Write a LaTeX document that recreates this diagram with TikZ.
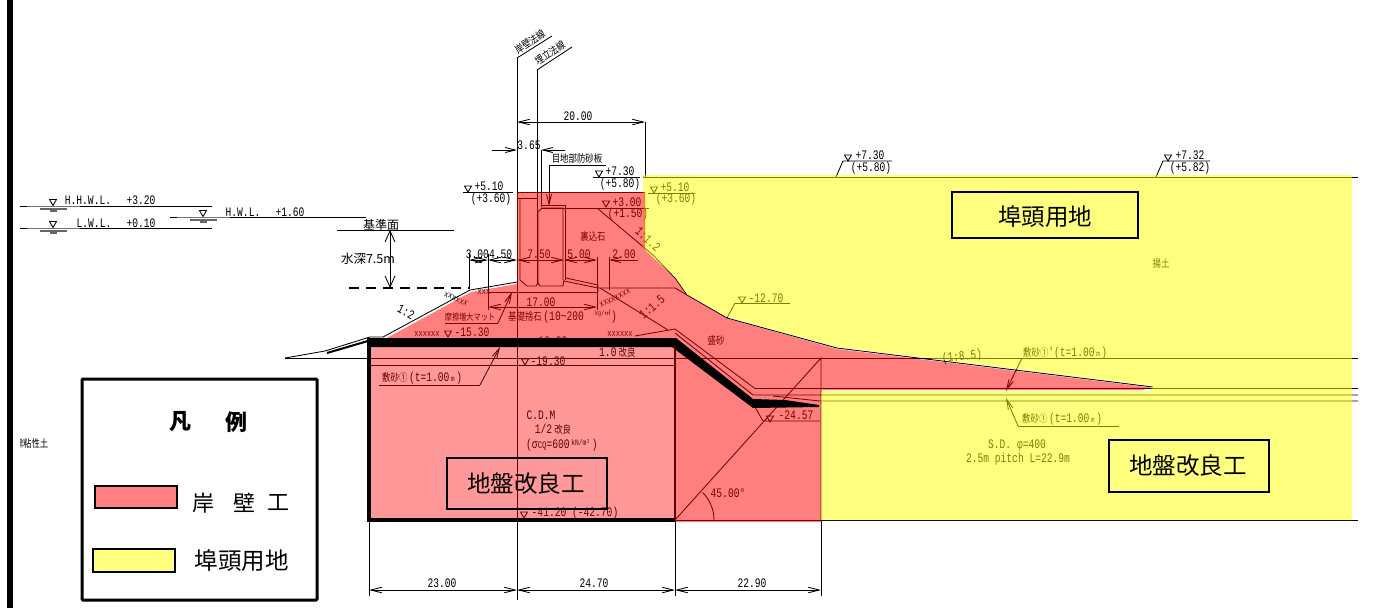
\documentclass[tikz,border=0pt]{standalone}
\usepackage{fontspec}
\usepackage{graphicx}
\usetikzlibrary{arrows.meta}
\newfontfamily\cadf[FakeStretch=0.74]{Liberation Mono}
\newfontfamily\jpn[FakeStretch=0.8]{Noto Sans CJK JP}
\newfontfamily\jpb{Noto Sans CJK JP}
\definecolor{pureY}{RGB}{255,255,0}
\definecolor{pureR}{RGB}{255,0,0}
\definecolor{swR}{RGB}{255,128,128}
\definecolor{swY}{RGB}{255,255,128}
\definecolor{darkedge}{RGB}{96,0,0}
\newcommand{\J}[1]{{\fontsize{10.5}{11}\jpn #1}}
\newcommand{\M}[1]{{\fontsize{13}{13}\cadf #1}}
\newcommand{\tri}[2]{\draw[thin line] (#1-3.5,#2-6) -- (#1+3.5,#2-6) -- (#1,#2) -- cycle;}
\newcommand{\wlev}[3]{%
  \draw[thin line] (#1-33,#2) -- (#1+#3,#2);
  \tri{#1}{#2-0.5}
  \draw[line width=1.2pt,black!55] (#1-26,#2+.7) -- (#1+27,#2+.7);
  \draw[line width=1.2pt,black!60] (#1-13,#2+3) -- (#1+14,#2+3);
  \draw[line width=1.2pt,black!60] (#1-3,#2+5) -- (#1+4,#2+5);}
\tikzset{
  thin line/.style={line width=.85pt,black},
  dim/.style={line width=.85pt,black,{Straight Barb[length=11pt,width=5.5pt]}-{Straight Barb[length=11pt,width=5.5pt]}},
  lead/.style={line width=.85pt,black,-{Straight Barb[length=10pt,width=5pt]}},
  cd/.style={inner sep=0pt,font=\fontsize{13}{13}\cadf,black},
  xm/.style={inner sep=0pt,font=\fontsize{9.5}{10}\cadf,black},
  jt/.style={inner sep=0pt,font=\fontsize{10.5}{11}\jpn,black},
  big/.style={inner sep=0pt,font=\fontsize{23.5}{24}\jpb,black},
  tagbox/.style={draw=black,line width=1.6pt,inner sep=0pt},
}
\begin{document}
\begin{tikzpicture}[x=1pt,y=-1pt]
\special{pdf:put @thispage << /Group << /S /Transparency /I true /CS /DeviceRGB >> >>}
\useasboundingbox (0,0) rectangle (1382,608);
\fill[black] (7,0) rectangle (13,608);

% ---------- water levels, left
\wlev{53}{206}{159}
\wlev{53}{228}{159}
\wlev{203}{217}{163}
\node[cd] (hhwl) at (88,200) {H.H.W.L.};
\node[cd] (hhwlv) at (141,200) {+3.20};
\node[cd] (lwl) at (94,223) {L.W.L.};
\node[cd] (lwlv) at (141,223) {+0.10};
\node[cd] (hwl) at (243,212) {H.W.L.};
\node[cd] (hwlv) at (290,212) {+1.60};
\draw[thin line] (337,230) -- (454,230);
\node[inner sep=0pt,font=\fontsize{12}{12}\jpb] (kijun) at (381,225) {基準面};
\node[inner sep=0pt,font=\fontsize{12.5}{13}\jpb] (suishin) at (368,259) {水深7.5m};
\draw[thin line,{Straight Barb[length=11pt,width=10pt]}-{Straight Barb[length=11pt,width=10pt]}] (390,230) -- (390,288);
\draw[black,line width=1.6pt,dash pattern=on 10pt off 7pt] (349,288) -- (470,288);

% ---------- section lines under the fills
\draw[thin line] (517,58) -- (517,600);
\draw[thin line] (517,58) -- (552,36);
\draw[thin line] (537,70) -- (572,47);
\draw[thin line] (537,70) -- (537,283);
\node[jt,rotate=33] (ganpeki) at (530,42) {岸壁法線};
\node[jt,rotate=33] (umetate) at (550,53) {埋立法線};

\draw[dim] (517,122) -- (645,122);
\draw[thin line] (645,122) -- (645,177);
\node[cd] (d20) at (578,116) {20.00};
\draw[lead] (492,150) -- (517,150);
\draw[lead] (565,150) -- (541,150);
\draw[thin line] (541,150) -- (541,207);
\node[cd] (d365) at (529,145) {3.65};
\node[jt] (mejibu) at (577,159) {目地部防砂板};
\draw[thin line] (606,165) -- (549,165);
\draw[lead] (549,165) -- (549,206);

% elevation markers
\draw[thin line] (463,192) -- (513,192); \tri{468}{192}
\node[cd] (e51a) at (489,186) {+5.10};
\node[cd] (e36a) at (491,199) {(+3.60)};
\draw[thin line] (593,177) -- (640,177); \tri{599}{177}
\node[cd] (e73a) at (620,171) {+7.30};
\node[cd] (e58a) at (620,184) {(+5.80)};
\draw[thin line] (648,193) -- (695,193); \tri{654}{193}
\node[cd] (e51b) at (675,187) {+5.10};
\node[cd] (e36b) at (676,199) {(+3.60)};
\draw[thin line] (541,208) -- (649,208); \tri{606}{207}
\node[cd] (e30) at (627,202) {+3.00};
\node[cd] (e15) at (628,214) {(+1.50)};
\draw[thin line] (517,192) -- (645,192);
\draw[thin line] (597,208) -- (653,255);
\node[cd,rotate=-42] (s112) at (648,239) {1:1.2};
\node[jt] (urakomi) at (593,237) {裏込石};

\draw[thin line] (836,177) -- (843,161) -- (892,161); \tri{848}{161}
\node[cd] (e73b) at (870,155) {+7.30};
\node[cd] (e58b) at (871,168) {(+5.80)};
\draw[thin line] (1156,177) -- (1163,161) -- (1210,161); \tri{1168}{161}
\node[cd] (e73c) at (1190,155) {+7.32};
\node[cd] (e58c) at (1190,168) {(+5.82)};
\draw[thin line] (643,177) -- (1358,177);

% caisson
\draw[thin line] (517,198) -- (537,198);
\draw[thin line] (520,198) -- (520,280) -- (527,286) -- (536,286) -- (538,283) -- (540,286) -- (563,286) -- (564,280);
\draw[thin line] (538,283) -- (538,212) -- (542,208) -- (563,208) -- (563,280);
\draw[thin line] (542,205.5) -- (566,205.5);
\draw[line width=1.8pt,black] (565.5,205.5) -- (565.5,280);
\draw[thin line] (566,278) -- (598,285) -- (598,292);
\draw[thin line] (564,281) -- (598,288);
\draw[thin line] (488,287) -- (517,282);
\draw[thin line] (488,292) -- (598,292);
\draw[thin line] (598,288) -- (675,288) -- (687,295);

% dimension chain
\draw[dim] (469,260) -- (488,260);
\draw[dim] (488,260) -- (517,260);
\draw[dim] (517,260) -- (564,260);
\draw[dim] (564,260) -- (597,260);
\draw[lead] (638,260) -- (609,260);
\draw[thin line] (469,254) -- (469,287);
\draw[thin line] (488,254) -- (488,310);
\draw[thin line] (597,257) -- (597,310);
\draw[thin line] (609,257) -- (609,290);
\node[cd] (d3045) at (489,254) {3.004.50};
\node[cd] (d75) at (539,254) {7.50};
\node[cd] (d50) at (579,254) {5.00};
\node[cd] (d20b) at (624,254) {2.00};
\draw[dim] (488,307) -- (597,307);
\node[cd] (d17) at (541,302) {17.00};

% foundation labels
\node[inner sep=0pt,anchor=west] (kiso) at (508,317) {\J{基礎捨石}\,\M{(10\textasciitilde 200}};
\node[inner sep=0pt] (kgm) at (603,313) {{\fontsize{7}{7}\cadf kg/}{\fontsize{6.5}{7}\jpb ㎥}};
\node[cd] (kparen) at (614,317) {)};
\node[inner sep=0pt,font=\fontsize{9}{10}\jpn] (masatsu) at (470,317) {摩擦増大マット};
\draw[thin line] (445,323) -- (498,323);
\draw[lead] (498,323) -- (512,292);

% slopes
\draw[thin line] (383,337) -- (470,290) -- (488,287);
\node[cd,rotate=-27] (s12) at (406,312) {1:2};
\node[xm,rotate=-24] (xa) at (456,299) {xxxxxx};
\node[xm] (xb) at (484,292) {xxx};
\node[xm] (xc) at (427,334) {xxxxxx};
\node[xm] (xd) at (620,334) {xxxxxx};
\node[xm,rotate=27] (xe) at (615,298) {xxxxxxxx};
\draw[thin line] (600,288) -- (668,330);
\node[cd,rotate=40] (s115) at (652,307) {1:1.5};
\draw[thin line] (635,336) -- (675,329) -- (755,388.5) -- (1358,388.5);
\draw[thin line] (675,333) -- (753,395) -- (1358,395);
\draw[thin line] (773,396) -- (820,401) -- (1358,401);

% fill boundary line
\draw[thin line] (653,255) -- (675,278) -- (687,295) -- (727,318) -- (837,348) -- (1153,387);
\draw[thin line] (735,303) -- (790,303); \draw[thin line] (735,303) -- (727,318);
\tri{742}{303}
\node[cd] (e127) at (766,298) {-12.70};
\node[jt] (morisuna) at (716,340) {盛砂};
\node[cd,rotate=6] (s85) at (962,357) {(1:8.5)};

\draw[thin line] (285,358) -- (325,351) -- (370,337) -- (383,337);
\draw[thin line] (327,353) -- (370,340);
\draw[thin line] (285,358) -- (1358,358);
\draw[thin line] (369,365) -- (675,365);
\draw[thin line] (675,520) -- (1358,520);
\draw[thin line] (675,520) -- (821,358) -- (821,520);
\draw[thin line] (714,520) arc[start angle=0,end angle=-45,radius=39];
\node[cd] (a45) at (728,493) {45.00°};

% level labels
\tri{448}{337}
\node[cd] (e153) at (472,332) {-15.30};
\tri{525}{345}
\node[cd] (e163) at (550,341) {-16.30};
\tri{525}{365}
\node[cd] (e193) at (548,361) {-19.30};
\node[inner sep=0pt,anchor=west] (kai10) at (599,353) {\M{1.0\,}\J{改良}};
\node[inner sep=0pt,anchor=west] (shiki1) at (382,378) {\J{敷砂①}\,\M{(t=1.00}\,{\fontsize{8}{8}\cadf m}\,\M{)}};
\draw[thin line] (379,385) -- (480,385);
\draw[lead] (480,385) -- (500,347);

\node[inner sep=0pt,anchor=west] (shiki2) at (1023,353) {\J{敷砂①}\M{'(t=1.00}\,{\fontsize{8}{8}\cadf m}\,\M{)}};
\draw[thin line] (1022,358) -- (1122,358);
\draw[lead] (1022,358) -- (1006,391);
\node[inner sep=0pt,anchor=west] (shiki3) at (1022,419) {\J{敷砂①}\,\M{(t=1.00}\,{\fontsize{8}{8}\cadf m}\,\M{)}};
\draw[thin line] (1018,426) -- (1119,426);
\draw[lead] (1018,426) -- (1006,398);

\node[cd] (sd) at (1017,445) {S.D.  φ=400};
\node[cd] (pitch) at (1018,459) {2.5m pitch L=22.9m};
\node[jt] (ageto) at (1161,264) {揚土};

\draw[thin line] (755,407) -- (763,421) -- (820,421);
\tri{770}{422}
\node[cd] (e2457) at (796,415) {-24.57};

\node[cd] (cdm) at (541,415) {C.D.M};
\node[inner sep=0pt] (half) at (553,429) {\M{1/2\,}\J{改良}};
\node[inner sep=0pt,anchor=west] (sigma) at (526,445) {\M{(σ}{\fontsize{10}{10}\cadf CQ}\M{=600}\,\raisebox{3pt}{\fontsize{8.5}{8}\cadf kN/m²}\,\M{)}};
\tri{524}{518}
\node[cd] (e412) at (575,513) {-41.20 (-42.70)};

% lower dimensions
\draw[thin line] (369,520) -- (369,596);
\draw[thin line] (675,520) -- (675,596);
\draw[thin line] (821,520) -- (821,596);
\draw[dim] (369,590) -- (517,590);
\draw[dim] (517,590) -- (675,590);
\draw[dim] (675,590) -- (821,590);
\node[cd] (d23) at (442,583) {23.00};
\node[cd] (d247) at (594,583) {24.70};
\node[cd] (d229) at (752,583) {22.90};

% ---------- translucent fills
\fill[pureY,fill opacity=.5] (643,175) -- (1352,175) -- (1352,520) -- (821,520) -- (821,391) -- (1150,391) -- (1153,386) -- (837,347) -- (727,317) -- (687,294) -- (675,277) -- (645,250) -- (643,248) -- cycle;
\fill[pureR,fill opacity=.5] (517,192) -- (645,192) -- (645,250) -- (675,278) -- (687,295) -- (727,318.5) -- (837,349) -- (1150,387.5) -- (1143,390) -- (821,390) -- (821,522) -- (675,522) -- (675,342) -- (369,342) -- (369,339) -- (385,339) -- (471,292) -- (488,289) -- (517,284) -- cycle;
\fill[pureR,fill opacity=.4] (369,342) rectangle (675,521);

% ---------- thick black improvement outline
\fill[black] (367,338) -- (676,338) -- (753,399) -- (785,400) -- (819,405) -- (819,407) -- (753,408) -- (672,347) -- (367,347) -- cycle;
\draw[line width=3.6pt,black] (369,340) -- (369,520) -- (675,520);
\draw[line width=2.6pt,darkedge] (675,346) -- (675,520);
\draw[line width=2pt,black] (327,353) -- (368,341);

% ---------- boxes
\node[tagbox,minimum width=186pt,minimum height=46pt] (boxfutou) at (1045,215) {};
\node[big] (tfutou) at (1045,217) {埠頭用地};
\node[tagbox,minimum width=160pt,minimum height=52pt] (boxkairyoR) at (1189,466) {};
\node[big] (tkairyoR) at (1188,466) {地盤改良工};
\node[tagbox,minimum width=160pt,minimum height=51pt] (boxkairyoL) at (527,483.5) {};
\node[big] (tkairyoL) at (526,484) {地盤改良工};

% ---------- legend
\draw[black,line width=3pt,rounded corners=1pt,fill=white] (82,379) rectangle (317,600);
\node[inner sep=0pt,font=\fontsize{22}{22}\jpb\bfseries] (han) at (180,422) {凡};
\node[inner sep=0pt,font=\fontsize{22}{22}\jpb\bfseries] (rei) at (236,422) {例};
\draw[line width=1.5pt,black,fill=swR] (95,486) rectangle (177,508);
\draw[line width=1.5pt,black,fill=swY] (93,549) rectangle (175,572);
\node[inner sep=0pt,font=\fontsize{22}{22}\jpb] (gan) at (203,503) {岸};
\node[inner sep=0pt,font=\fontsize{22}{22}\jpb] (peki) at (244,503) {壁};
\node[inner sep=0pt,font=\fontsize{22}{22}\jpb] (ko) at (278,503) {工};
\node[inner sep=0pt,font=\fontsize{23.5}{24}\jpb] (lfutou) at (241.5,561) {埠頭用地};
\node[inner sep=0pt,anchor=west] (nensei) at (20,444) {\scalebox{.35}[1]{\J{軟}}\J{粘性土}};
\end{tikzpicture}
\end{document}
